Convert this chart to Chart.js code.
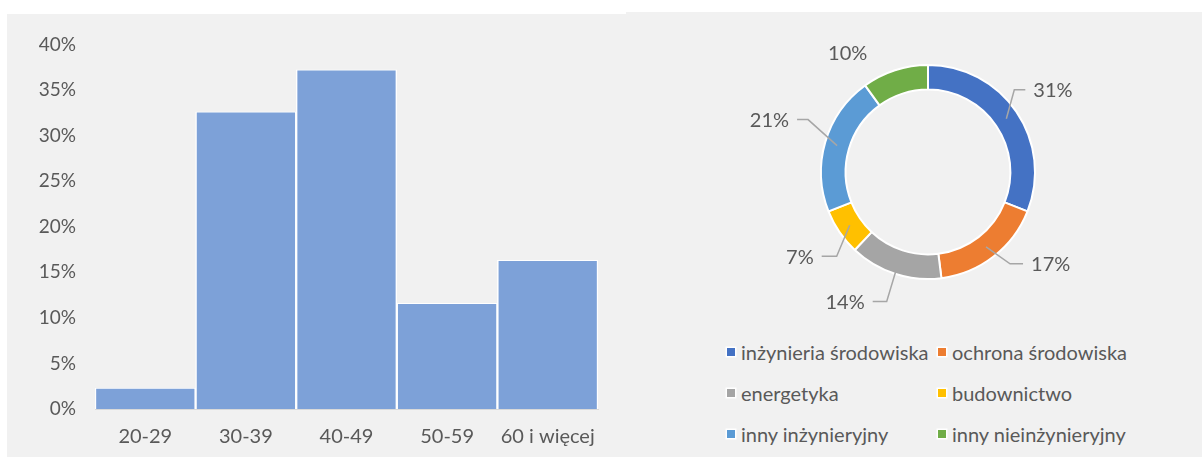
<!DOCTYPE html>
<html lang="pl">
<head>
<meta charset="utf-8">
<title>Wiek i wykształcenie</title>
<script src="https://cdn.jsdelivr.net/npm/chart.js@4/dist/chart.umd.min.js"></script>
<style>
  html, body { margin: 0; padding: 0; background: #ffffff; }
  body { width: 1202px; height: 457px; position: relative; overflow: hidden; font-family: Lato, "Open Sans", sans-serif; }
  .panel { position: absolute; background: #f1f1f1; }
  #panelLeft { left: 7px; top: 14px; width: 619px; height: 443px; }
  #panelRight { left: 626px; top: 12px; width: 576px; height: 445px; }
  #ageBox { position: absolute; left: 7px; top: 14px; width: 615px; height: 443px; }
  #fieldBox { position: absolute; left: 700px; top: 30px; width: 460px; height: 290px; }
  #legend { position: absolute; left: 727px; top: 331px; display: grid;
            grid-template-columns: 211px 211px; grid-auto-rows: 41px; align-items: center;
            color: #595959; font-size: 20px; white-space: nowrap; }
  #legend .item { display: flex; align-items: center; }
  #legend .swatch { width: 8px; height: 8px; margin-right: 6px; box-shadow: 0 0 0 1.5px #ffffff; }
</style>
</head>
<body>
<div class="panel" id="panelLeft"></div>
<div class="panel" id="panelRight"></div>
<div id="ageBox"><canvas id="ageChart" width="615" height="443"></canvas></div>
<div id="fieldBox"><canvas id="fieldChart" width="460" height="290"></canvas></div>
<div id="legend"></div>

<script>
// Respondents by age group (share, %)
const ageGroups = ['20-29', '30-39', '40-49', '50-59', '60 i więcej'];
const ageShares = [2.3, 32.6, 37.2, 11.6, 16.3];
const ageTicks = [0, 5, 10, 15, 20, 25, 30, 35, 40];

// Respondents by field of education (share, %)
const fieldNames = ['inżynieria środowiska', 'ochrona środowiska', 'energetyka',
                    'budownictwo', 'inny inżynieryjny', 'inny nieinżynieryjny'];
const fieldShares = [31, 17, 14, 7, 21, 10];
const fieldColors = ['#4472C4', '#ED7D31', '#A5A5A5', '#FFC000', '#5B9BD5', '#70AD47'];

const TEXT = '#595959';
const FONT = 'Lato, "Open Sans", sans-serif';
Chart.defaults.font.family = FONT;
Chart.defaults.color = TEXT;

// ---- Age histogram ----
new Chart(document.getElementById('ageChart'), {
  type: 'bar',
  data: {
    labels: ageGroups,
    datasets: [{
      data: ageShares,
      backgroundColor: '#7DA1D8',
      borderColor: '#ffffff',
      borderWidth: { top: 1, left: 1.5, right: 1.5, bottom: 0 },
      borderSkipped: false,
      barPercentage: 1,
      categoryPercentage: 1
    }]
  },
  options: {
    responsive: false,
    devicePixelRatio: 1,
    animation: false,
    layout: { padding: { top: 28, right: 24, bottom: 9, left: 0 } },
    plugins: { legend: { display: false }, tooltip: { enabled: false } },
    scales: {
      x: {
        afterFit: (scale) => { scale.height = 39; },
        grid: { display: false, drawTicks: false },
        border: { display: true, color: '#d9d9d9', width: 1 },
        ticks: { padding: 16, font: { size: 20 }, color: TEXT, maxRotation: 0, autoSkip: false }
      },
      y: {
        min: ageTicks[0],
        max: ageTicks[ageTicks.length - 1],
        afterBuildTicks: (scale) => { scale.ticks = ageTicks.map(v => ({ value: v })); },
        afterFit: (scale) => { scale.width = 88; },
        grid: { display: false, drawTicks: false },
        border: { display: false },
        ticks: { padding: 19, font: { size: 19 }, color: TEXT, callback: (v) => v + '%' }
      }
    }
  }
});

// ---- Doughnut value labels with leader lines ----
const leaderLabels = {
  id: 'leaderLabels',
  afterDatasetsDraw(chart, args, opts) {
    const ctx = chart.ctx;
    const arcs = chart.getDatasetMeta(0).data;
    ctx.save();
    ctx.font = `${opts.size}px ${FONT}`;
    ctx.fillStyle = TEXT;
    ctx.strokeStyle = opts.lineColor;
    ctx.lineWidth = 1.5;
    ctx.textBaseline = 'middle';
    arcs.forEach((arc, i) => {
      const p = arc.getProps(['x', 'y', 'startAngle', 'endAngle', 'innerRadius', 'outerRadius'], true);
      const a = (p.startAngle + p.endAngle) / 2;
      const lay = opts.layout[i];
      const r = p.innerRadius + (p.outerRadius - p.innerRadius) * lay.r;
      const sx = p.x + Math.cos(a) * r;
      const sy = p.y + Math.sin(a) * r;
      const text = chart.data.datasets[0].data[i] + '%';
      if (!lay.line) {
        ctx.textAlign = 'center';
        ctx.fillText(text, sx + lay.elbow[0], sy + lay.elbow[1]);
        return;
      }
      const ex = sx + lay.elbow[0];
      const ey = sy + lay.elbow[1];
      const tx = ex + lay.tail;
      ctx.beginPath();
      ctx.moveTo(sx, sy);
      ctx.lineTo(ex, ey);
      ctx.lineTo(tx, ey);
      ctx.stroke();
      const dir = Math.sign(lay.tail);
      ctx.textAlign = dir > 0 ? 'left' : 'right';
      ctx.fillText(text, tx + dir * 8, ey + 1);
    });
    ctx.restore();
  }
};

new Chart(document.getElementById('fieldChart'), {
  type: 'doughnut',
  data: {
    labels: fieldNames,
    datasets: [{
      data: fieldShares,
      backgroundColor: fieldColors,
      borderColor: '#ffffff',
      borderWidth: 2,
      hoverOffset: 0
    }]
  },
  options: {
    responsive: false,
    devicePixelRatio: 1,
    animation: false,
    cutout: '77%',
    layout: { padding: { top: 34, right: 124, bottom: 40, left: 120 } },
    plugins: {
      legend: { display: false },
      tooltip: { enabled: false },
      leaderLabels: {
        size: 20,
        lineColor: '#a6a6a6',
        layout: [
          { r: 0.5, elbow: [8, -29], tail: 11, line: true },
          { r: 0.5, elbow: [24, 17], tail: 13, line: true },
          { r: 0.9, elbow: [-9, 30], tail: -14, line: true },
          { r: 0.5, elbow: [-13, 31], tail: -15, line: true },
          { r: 0.5, elbow: [-29, -26], tail: -11, line: true },
          { r: 0.5, elbow: [-51, -28], tail: 0, line: false }
        ]
      }
    }
  },
  plugins: [leaderLabels]
});

// ---- Legend for the doughnut ----
const legendEl = document.getElementById('legend');
fieldNames.forEach((name, i) => {
  const item = document.createElement('div');
  item.className = 'item';
  const sw = document.createElement('span');
  sw.className = 'swatch';
  sw.style.background = fieldColors[i];
  const label = document.createElement('span');
  label.textContent = name;
  item.appendChild(sw);
  item.appendChild(label);
  legendEl.appendChild(item);
});
</script>
</body>
</html>
